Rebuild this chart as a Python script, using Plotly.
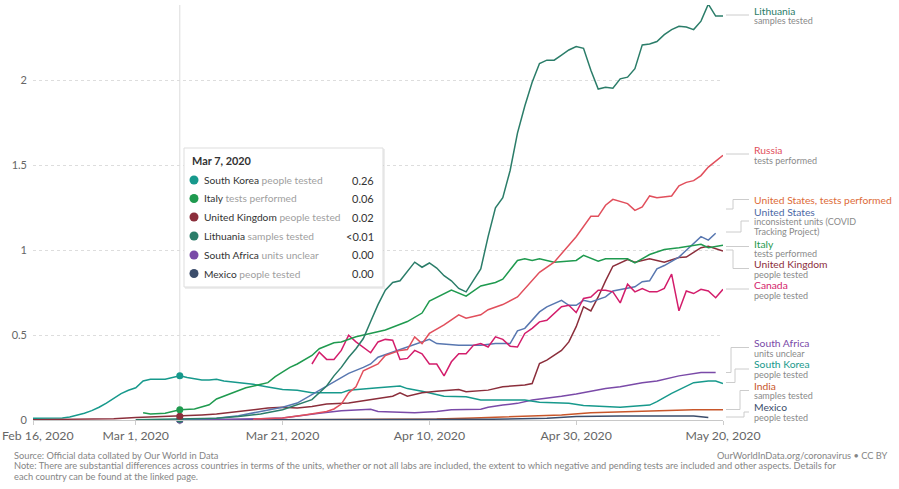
import plotly.graph_objects as go

# ---------------- DATA (tests per 1,000 people, 7-day rolling) ----------------
sk_dates = ["2020-02-16", "2020-02-20", "2020-02-21", "2020-02-22", "2020-02-23", "2020-02-24", "2020-02-25",
            "2020-02-26", "2020-02-27", "2020-02-28", "2020-02-29", "2020-03-01", "2020-03-02", "2020-03-03",
            "2020-03-05", "2020-03-06", "2020-03-07", "2020-03-08", "2020-03-10", "2020-03-11", "2020-03-12",
            "2020-03-13", "2020-03-14", "2020-03-17", "2020-03-19", "2020-03-21", "2020-03-23", "2020-03-25",
            "2020-03-29", "2020-03-30", "2020-04-03", "2020-04-06", "2020-04-07", "2020-04-09", "2020-04-12",
            "2020-04-15", "2020-04-17", "2020-04-23", "2020-04-25", "2020-04-29", "2020-05-01", "2020-05-06",
            "2020-05-10", "2020-05-11", "2020-05-13", "2020-05-16", "2020-05-18", "2020-05-19", "2020-05-20"]
sk_values = [0.01, 0.012, 0.018, 0.027, 0.04, 0.055, 0.075, 0.10, 0.13, 0.155, 0.175, 0.19, 0.23, 0.24,
             0.24, 0.25, 0.26, 0.25, 0.235, 0.235, 0.24, 0.23, 0.225, 0.21, 0.195, 0.18, 0.175, 0.16,
             0.16, 0.175, 0.19, 0.20, 0.185, 0.17, 0.14, 0.137, 0.118, 0.118, 0.105, 0.098, 0.085, 0.075,
             0.088, 0.108, 0.157, 0.22, 0.23, 0.23, 0.215]

it_dates = ["2020-03-02", "2020-03-03", "2020-03-05", "2020-03-07", "2020-03-09", "2020-03-11", "2020-03-12",
            "2020-03-14", "2020-03-16", "2020-03-19", "2020-03-20", "2020-03-22", "2020-03-23", "2020-03-25",
            "2020-03-26", "2020-03-28", "2020-03-29", "2020-03-31", "2020-04-03", "2020-04-04", "2020-04-07",
            "2020-04-09", "2020-04-10", "2020-04-12", "2020-04-13", "2020-04-15", "2020-04-17", "2020-04-19",
            "2020-04-20", "2020-04-22", "2020-04-23", "2020-04-24", "2020-04-25", "2020-04-27", "2020-04-30",
            "2020-05-01", "2020-05-03", "2020-05-04", "2020-05-07", "2020-05-08", "2020-05-10", "2020-05-12",
            "2020-05-14", "2020-05-17", "2020-05-18", "2020-05-20"]
it_values = [0.043, 0.035, 0.04, 0.06, 0.065, 0.09, 0.124, 0.157, 0.19, 0.22, 0.255, 0.31, 0.33, 0.38,
             0.42, 0.455, 0.46, 0.49, 0.52, 0.53, 0.58, 0.63, 0.70, 0.745, 0.765, 0.73, 0.79, 0.81,
             0.83, 0.94, 0.95, 0.94, 0.95, 0.93, 0.94, 0.97, 0.935, 0.95, 0.95, 0.925, 0.975, 1.005,
             1.015, 1.035, 1.015, 1.03]

uk_dates = ["2020-02-16", "2020-02-23", "2020-02-27", "2020-03-01", "2020-03-04", "2020-03-07", "2020-03-10",
            "2020-03-12", "2020-03-15", "2020-03-19", "2020-03-21", "2020-03-23", "2020-03-25", "2020-03-27",
            "2020-03-30", "2020-04-03", "2020-04-05", "2020-04-06", "2020-04-07", "2020-04-09", "2020-04-11",
            "2020-04-14", "2020-04-15", "2020-04-18", "2020-04-20", "2020-04-23", "2020-04-24", "2020-04-25",
            "2020-04-26", "2020-04-28", "2020-04-29", "2020-04-30", "2020-05-01", "2020-05-02", "2020-05-03",
            "2020-05-04", "2020-05-05", "2020-05-07", "2020-05-08", "2020-05-10", "2020-05-12", "2020-05-14",
            "2020-05-15", "2020-05-17", "2020-05-18", "2020-05-20"]
uk_values = [0.002, 0.004, 0.008, 0.015, 0.02, 0.022, 0.03, 0.035, 0.05, 0.07, 0.075, 0.07, 0.08, 0.094,
             0.10, 0.127, 0.14, 0.16, 0.14, 0.16, 0.17, 0.18, 0.167, 0.176, 0.196, 0.206, 0.215, 0.333,
             0.353, 0.41, 0.46, 0.55, 0.667, 0.643, 0.725, 0.82, 0.906, 0.945, 0.93, 0.95, 0.93, 0.957,
             0.96, 1.015, 1.024, 0.996]

lt_dates = ["2020-03-01", "2020-03-07", "2020-03-12", "2020-03-15", "2020-03-18", "2020-03-21", "2020-03-23",
            "2020-03-25", "2020-03-27", "2020-03-28", "2020-03-29", "2020-03-30", "2020-03-31", "2020-04-01",
            "2020-04-02", "2020-04-03", "2020-04-04", "2020-04-05", "2020-04-06", "2020-04-08", "2020-04-09",
            "2020-04-10", "2020-04-11", "2020-04-12", "2020-04-13", "2020-04-14", "2020-04-15", "2020-04-17",
            "2020-04-18", "2020-04-19", "2020-04-20", "2020-04-21", "2020-04-22", "2020-04-23", "2020-04-24",
            "2020-04-25", "2020-04-26", "2020-04-27", "2020-04-28", "2020-04-29", "2020-04-30", "2020-05-01",
            "2020-05-02", "2020-05-03", "2020-05-04", "2020-05-05", "2020-05-06", "2020-05-07", "2020-05-08",
            "2020-05-09", "2020-05-10", "2020-05-11", "2020-05-12", "2020-05-13", "2020-05-14", "2020-05-15",
            "2020-05-16", "2020-05-17", "2020-05-18", "2020-05-19", "2020-05-20"]
lt_values = [0.002, 0.004, 0.01, 0.02, 0.035, 0.06, 0.09, 0.12, 0.20, 0.26, 0.31, 0.37, 0.42, 0.48,
             0.58, 0.68, 0.765, 0.81, 0.82, 0.93, 0.90, 0.925, 0.895, 0.85, 0.82, 0.775, 0.755, 0.89,
             1.08, 1.25, 1.31, 1.47, 1.69, 1.85, 1.99, 2.10, 2.12, 2.12, 2.15, 2.18, 2.20, 2.19,
             2.06, 1.95, 1.96, 1.955, 2.01, 2.02, 2.07, 2.21, 2.215, 2.23, 2.27, 2.30, 2.32, 2.315,
             2.30, 2.35, 2.45, 2.38, 2.38]

ru_dates = ["2020-03-17", "2020-03-21", "2020-03-24", "2020-03-27", "2020-03-28", "2020-03-29", "2020-03-30",
            "2020-03-31", "2020-04-01", "2020-04-03", "2020-04-04", "2020-04-06", "2020-04-07", "2020-04-08",
            "2020-04-09", "2020-04-10", "2020-04-12", "2020-04-14", "2020-04-15", "2020-04-17", "2020-04-18",
            "2020-04-20", "2020-04-22", "2020-04-25", "2020-04-27", "2020-04-28", "2020-04-30", "2020-05-02",
            "2020-05-03", "2020-05-04", "2020-05-05", "2020-05-07", "2020-05-08", "2020-05-09", "2020-05-10",
            "2020-05-11", "2020-05-13", "2020-05-14", "2020-05-15", "2020-05-16", "2020-05-17", "2020-05-18",
            "2020-05-20"]
ru_values = [0.005, 0.012, 0.03, 0.05, 0.065, 0.094, 0.16, 0.196, 0.29, 0.33, 0.38, 0.41, 0.415, 0.49,
             0.45, 0.51, 0.56, 0.62, 0.60, 0.62, 0.65, 0.68, 0.725, 0.87, 0.93, 0.98, 1.08, 1.20,
             1.20, 1.265, 1.30, 1.275, 1.235, 1.255, 1.32, 1.31, 1.32, 1.38, 1.40, 1.41, 1.44, 1.49,
             1.56]

us_dates = ["2020-03-01", "2020-03-07", "2020-03-12", "2020-03-15", "2020-03-18", "2020-03-21", "2020-03-23",
            "2020-03-26", "2020-03-28", "2020-03-30", "2020-04-01", "2020-04-02", "2020-04-03", "2020-04-05",
            "2020-04-07", "2020-04-10", "2020-04-11", "2020-04-14", "2020-04-17", "2020-04-19", "2020-04-21",
            "2020-04-22", "2020-04-23", "2020-04-25", "2020-04-26", "2020-04-28", "2020-04-29", "2020-04-30",
            "2020-05-01", "2020-05-02", "2020-05-04", "2020-05-05", "2020-05-08", "2020-05-09", "2020-05-10",
            "2020-05-11", "2020-05-12", "2020-05-14", "2020-05-15", "2020-05-17", "2020-05-18", "2020-05-19"]
us_values = [0.0, 0.002, 0.01, 0.025, 0.05, 0.075, 0.10, 0.175, 0.225, 0.275, 0.31, 0.33, 0.37, 0.40,
             0.43, 0.475, 0.45, 0.44, 0.44, 0.45, 0.45, 0.525, 0.54, 0.637, 0.667, 0.705, 0.676, 0.676,
             0.705, 0.696, 0.725, 0.76, 0.785, 0.815, 0.82, 0.89, 0.91, 0.96, 1.0, 1.08, 1.06, 1.10]

ca_dates = ["2020-03-25", "2020-03-26", "2020-03-27", "2020-03-28", "2020-03-29", "2020-03-30", "2020-03-31",
            "2020-04-01", "2020-04-02", "2020-04-03", "2020-04-04", "2020-04-05", "2020-04-06", "2020-04-07",
            "2020-04-08", "2020-04-09", "2020-04-10", "2020-04-11", "2020-04-12", "2020-04-13", "2020-04-14",
            "2020-04-15", "2020-04-16", "2020-04-17", "2020-04-18", "2020-04-19", "2020-04-20", "2020-04-21",
            "2020-04-22", "2020-04-23", "2020-04-24", "2020-04-25", "2020-04-26", "2020-04-28", "2020-04-29",
            "2020-04-30", "2020-05-01", "2020-05-02", "2020-05-03", "2020-05-04", "2020-05-05", "2020-05-06",
            "2020-05-07", "2020-05-08", "2020-05-09", "2020-05-10", "2020-05-11", "2020-05-12", "2020-05-13",
            "2020-05-14", "2020-05-15", "2020-05-16", "2020-05-17", "2020-05-18", "2020-05-19", "2020-05-20"]
ca_values = [0.33, 0.40, 0.357, 0.357, 0.41, 0.50, 0.46, 0.427, 0.396, 0.46, 0.475, 0.47, 0.357, 0.363,
             0.41, 0.39, 0.33, 0.33, 0.26, 0.343, 0.39, 0.39, 0.44, 0.45, 0.43, 0.49, 0.475, 0.435,
             0.43, 0.51, 0.54, 0.578, 0.588, 0.667, 0.676, 0.633, 0.716, 0.725, 0.765, 0.765, 0.755, 0.69,
             0.80, 0.755, 0.775, 0.755, 0.755, 0.775, 0.86, 0.643, 0.76, 0.745, 0.77, 0.76, 0.72, 0.77]

za_dates = ["2020-03-07", "2020-03-12", "2020-03-15", "2020-03-18", "2020-03-21", "2020-03-23", "2020-03-26",
            "2020-03-29", "2020-04-02", "2020-04-03", "2020-04-08", "2020-04-11", "2020-04-13", "2020-04-17",
            "2020-04-18", "2020-04-20", "2020-04-22", "2020-04-24", "2020-04-26", "2020-04-28", "2020-04-30",
            "2020-05-03", "2020-05-04", "2020-05-06", "2020-05-09", "2020-05-11", "2020-05-14", "2020-05-17",
            "2020-05-19"]
za_values = [0.0, 0.002, 0.005, 0.008, 0.012, 0.024, 0.04, 0.055, 0.063, 0.05, 0.043, 0.05, 0.06, 0.063,
             0.075, 0.088, 0.098, 0.118, 0.127, 0.14, 0.153, 0.18, 0.186, 0.196, 0.22, 0.23, 0.26, 0.28,
             0.28]

in_dates = ["2020-03-14", "2020-03-27", "2020-04-06", "2020-04-11", "2020-04-16", "2020-04-20", "2020-04-24",
            "2020-04-28", "2020-05-02", "2020-05-07", "2020-05-12", "2020-05-16", "2020-05-20"]
in_values = [0.0, 0.001, 0.003, 0.006, 0.012, 0.018, 0.024, 0.03, 0.043, 0.05, 0.053, 0.06, 0.06]

mx_dates = ["2020-03-07", "2020-03-27", "2020-04-11", "2020-04-18", "2020-04-26", "2020-04-30", "2020-05-06",
            "2020-05-16", "2020-05-18"]
mx_values = [0.0, 0.001, 0.003, 0.004, 0.01, 0.02, 0.024, 0.024, 0.014]

hover_date = "2020-03-07"
hover_title = "Mar 7, 2020"

tick_dates = ["2020-02-16", "2020-03-01", "2020-03-21", "2020-04-10", "2020-04-30", "2020-05-20"]
tick_labels = ["Feb 16, 2020", "Mar 1, 2020", "Mar 21, 2020", "Apr 10, 2020", "Apr 30, 2020", "May 20, 2020"]
y_ticks = [0, 0.5, 1, 1.5, 2]
y_tick_labels = ["0", "0.5", "1", "1.5", "2"]

# ---------------- STYLE ----------------
FONT = "Lato, 'Noto Sans', sans-serif"
C = {
    "South Korea": "#17998c",
    "Italy": "#1f9a4f",
    "United Kingdom": "#8b2e3b",
    "Lithuania": "#2b7d69",
    "South Africa": "#7a4aa8",
    "Mexico": "#3b4d6b",
    "Russia": "#e14f5c",
    "Canada": "#d31d6b",
    "United States": "#5877b0",
    "India": "#c8562a",
    "US tests": "#dd6b38",
}

series = [
    ("India", in_dates, in_values),
    ("Mexico", mx_dates, mx_values),
    ("South Africa", za_dates, za_values),
    ("South Korea", sk_dates, sk_values),
    ("United Kingdom", uk_dates, uk_values),
    ("United States", us_dates, us_values),
    ("Canada", ca_dates, ca_values),
    ("Italy", it_dates, it_values),
    ("Russia", ru_dates, ru_values),
    ("Lithuania", lt_dates, lt_values),
]

fig = go.Figure()
for name, d, v in series:
    fig.add_trace(go.Scatter(x=d, y=v, mode="lines", name=name,
                             line=dict(color=C[name], width=1.5), cliponaxis=False,
                             showlegend=False, hoverinfo="skip"))

# hover dots at the highlighted date
tooltip_rows = [
    ("South Korea", "people tested", sk_dates, sk_values),
    ("Italy", "tests performed", it_dates, it_values),
    ("United Kingdom", "people tested", uk_dates, uk_values),
    ("Lithuania", "samples tested", lt_dates, lt_values),
    ("South Africa", "units unclear", za_dates, za_values),
    ("Mexico", "people tested", mx_dates, mx_values),
]
for name, sub, d, v in reversed(tooltip_rows):
    val = v[d.index(hover_date)]
    fig.add_trace(go.Scatter(x=[hover_date], y=[val], mode="markers",
                             marker=dict(color=C[name], size=7), cliponaxis=False,
                             showlegend=False, hoverinfo="skip"))

W, H = 899, 489
L, R, T, B = 33, 176, 5, 69
PW, PH = W - L - R, H - T - B


def px(x):
    return (x - L) / PW


def py(y):
    return (H - B - y) / PH


shapes = []
annotations = []

# vertical hover line
shapes.append(dict(type="line", xref="x", yref="paper", x0=hover_date, x1=hover_date,
                   y0=py(425), y1=1, line=dict(color="#dcdcdc", width=1), layer="below"))

# ---- right-hand labels ----
labels = [
    # name, subtitle lines, colour, name y(px), connector (start y, bend x, end y)
    ("Lithuania", ["samples tested"], C["Lithuania"], 11, (15, None, 15)),
    ("Russia", ["tests performed"], C["Russia"], 150, (154, None, 154)),
    ("United States, tests performed", [], C["US tests"], 200, (209, 733, 199.5)),
    ("United States", ["inconsistent units (COVID", "Tracking Project)"], "#4e6aa6", 211.5, (232, 741, 221)),
    ("Italy", ["tests performed"], C["Italy"], 243.5, (246.5, None, 246.5)),
    ("United Kingdom", ["people tested"], C["United Kingdom"], 264, (250, 733, 268.5)),
    ("Canada", ["people tested"], C["Canada"], 285, (289, None, 289)),
    ("South Africa", ["units unclear"], C["South Africa"], 343, (372.5, 731, 347.5)),
    ("South Korea", ["people tested"], C["South Korea"], 364, (382.5, 735, 369)),
    ("India", ["samples tested"], C["India"], 385.5, (409.5, 740, 390.5)),
    ("Mexico", ["people tested"], C["Mexico"], 407, (417, 744, 412)),
]
for name, subs, col, ny, (sy, bx, ey) in labels:
    annotations.append(dict(xref="paper", yref="paper", x=px(752), y=py(ny), xanchor="left",
                            yanchor="middle", text=name, showarrow=False,
                            font=dict(family=FONT, size=10.3, color=col)))
    for i, s in enumerate(subs):
        annotations.append(dict(xref="paper", yref="paper", x=px(752), y=py(ny + 10 * (i + 1)),
                                xanchor="left", yanchor="middle", text=s, showarrow=False,
                                font=dict(family=FONT, size=9, color="#8a8a8a")))
    lc = dict(color="#cccccc", width=1)
    if bx is None:
        shapes.append(dict(type="line", xref="paper", yref="paper", x0=px(726), x1=px(749),
                           y0=py(sy), y1=py(sy), line=lc))
    else:
        shapes.append(dict(type="line", xref="paper", yref="paper", x0=px(726), x1=px(bx),
                           y0=py(sy), y1=py(sy), line=lc))
        shapes.append(dict(type="line", xref="paper", yref="paper", x0=px(bx), x1=px(bx),
                           y0=py(sy), y1=py(ey), line=lc))
        shapes.append(dict(type="line", xref="paper", yref="paper", x0=px(bx), x1=px(749),
                           y0=py(ey), y1=py(ey), line=lc))

# ---- tooltip ----
bx0, bx1, by0, by1 = 184, 383, 148, 287
shapes.append(dict(type="rect", xref="paper", yref="paper", x0=px(bx0 + 1), x1=px(bx1 + 2),
                   y0=py(by1 + 2), y1=py(by0 + 1), fillcolor="rgba(0,0,0,0.07)",
                   line=dict(width=0), layer="above"))
shapes.append(dict(type="rect", xref="paper", yref="paper", x0=px(bx0), x1=px(bx1),
                   y0=py(by1), y1=py(by0), fillcolor="white",
                   line=dict(color="#dddddd", width=1), layer="above"))
annotations.append(dict(xref="paper", yref="paper", x=px(190), y=py(161), xanchor="left",
                        yanchor="middle", text="<b>" + hover_title + "</b>", showarrow=False,
                        font=dict(family=FONT, size=10.9, color="#333333")))
row_y = [180, 198.5, 217, 236, 255, 273.5]
for (name, sub, d, v), ry in zip(tooltip_rows, row_y):
    val = v[d.index(hover_date)]
    if 0 < val < 0.005:
        vt = "<0.01"
    else:
        vt = "{:.2f}".format(val)
    shapes.append(dict(type="circle", xref="paper", yref="paper", x0=px(189.5), x1=px(198.5),
                       y0=py(ry + 4.5), y1=py(ry - 4.5), fillcolor=C[name],
                       line=dict(width=0), layer="above"))
    annotations.append(dict(xref="paper", yref="paper", x=px(202), y=py(ry), xanchor="left",
                            yanchor="middle", showarrow=False,
                            text=name + " <span style='color:#a0a0a0'>" + sub + "</span>",
                            font=dict(family=FONT, size=10.2, color="#333333")))
    annotations.append(dict(xref="paper", yref="paper", x=px(376), y=py(ry), xanchor="right",
                            yanchor="middle", showarrow=False, text=vt,
                            font=dict(family=FONT, size=11, color="#333333")))

# ---- footer ----
foot = dict(family=FONT, size=9.25, color="#858585")
annotations += [
    dict(xref="paper", yref="paper", x=px(12), y=py(455), xanchor="left", yanchor="middle",
         showarrow=False, text="Source: Official data collated by Our World in Data", font=foot),
    dict(xref="paper", yref="paper", x=px(12), y=py(465.5), xanchor="left", yanchor="middle",
         showarrow=False, font=foot,
         text="Note: There are substantial differences across countries in terms of the units, whether or not all labs are included, the extent to which negative and pending tests are included and other aspects. Details for"),
    dict(xref="paper", yref="paper", x=px(12), y=py(476), xanchor="left", yanchor="middle",
         showarrow=False, font=foot, text="each country can be found at the linked page."),
    dict(xref="paper", yref="paper", x=px(890), y=py(455), xanchor="right", yanchor="middle",
         showarrow=False, font=foot, text="OurWorldInData.org/coronavirus • CC BY"),
]

# the first tick label sits flush with the left edge of the chart, as in the original
shown_tick_labels = ["\u00a0\u00a0\u00a0" + tick_labels[0]] + tick_labels[1:]

fig.update_layout(
    width=W, height=H,
    margin=dict(l=L, r=R, t=T, b=B, pad=0, autoexpand=False),
    paper_bgcolor="white", plot_bgcolor="white",
    font=dict(family=FONT, color="#666666"),
    showlegend=False, hovermode=False,
    shapes=shapes, annotations=annotations,
    xaxis=dict(type="date", range=["2020-02-16", "2020-05-20"], tickvals=tick_dates,
               ticktext=shown_tick_labels, showgrid=False, zeroline=False, automargin=False,
               showline=True, linecolor="#c8c8c8", linewidth=1,
               ticks="outside", ticklen=4, tickcolor="#cccccc", ticklabeloverflow="allow",
               tickfont=dict(family=FONT, size=12.3, color="#666666")),
    yaxis=dict(range=[0, 2.445], tickvals=y_ticks, ticktext=y_tick_labels, automargin=False,
               showgrid=True, gridcolor="#dddddd", griddash="3px,3px", gridwidth=1,
               zeroline=False, showline=False, ticks="", ticklabelstandoff=5,
               tickfont=dict(family=FONT, size=11, color="#666666")),
)

fig.write_html("out.html", config={"displayModeBar": False},
               post_script="document.body.style.margin='0px';")
